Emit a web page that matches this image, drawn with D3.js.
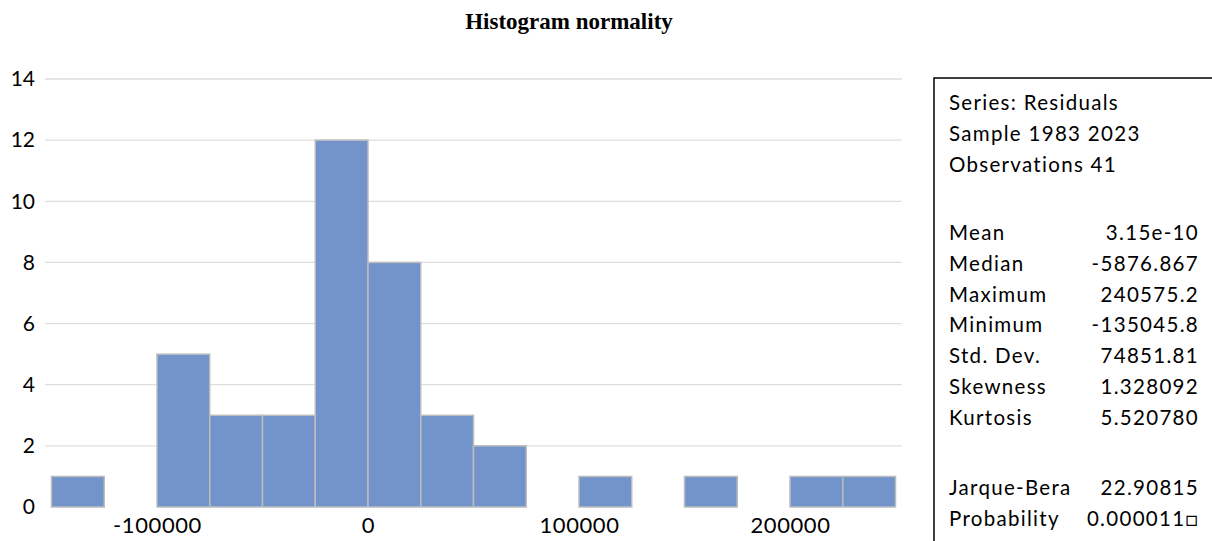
<!DOCTYPE html>
<html>
<head>
<meta charset="utf-8">
<script src="https://cdn.jsdelivr.net/npm/d3@7"></script>
<style>
  body { margin: 0; background: #fff; }
</style>
</head>
<body>
<svg id="chart" width="1212" height="541"></svg>
<script>
// histogram bins (lower edge) and counts
var binStarts = [-150000, -125000, -100000, -75000, -50000, -25000, 0, 25000, 50000, 75000, 100000, 125000, 150000, 175000, 200000, 225000];
var binWidth = 25000;
var counts = [1, 0, 5, 3, 3, 12, 8, 3, 2, 0, 1, 0, 1, 0, 1, 1];
var xTicks = [-100000, 0, 100000, 200000];
var yTicks = [0, 2, 4, 6, 8, 10, 12, 14];

// stats box
var headerLines = ["Series: Residuals", "Sample 1983 2023", "Observations 41"];
var statLabels = ["Mean", "Median", "Maximum", "Minimum", "Std. Dev.", "Skewness", "Kurtosis"];
var statValues = ["3.15e-10", "-5876.867", "240575.2", "-135045.8", "74851.81", "1.328092", "5.520780"];
var testLabels = ["Jarque-Bera", "Probability"];
var testValues = ["22.90815", "0.000011\u25A1"];

var svg = d3.select("#chart");
var font = "Lato, 'Open Sans', sans-serif";

svg.append("text")
  .attr("x", 569).attr("y", 29)
  .attr("text-anchor", "middle")
  .style("font-family", "'Liberation Serif', 'Times New Roman', serif")
  .style("font-weight", "bold")
  .style("font-size", "23px")
  .text("Histogram normality");

var x = d3.scaleLinear().domain([-150000, 250000]).range([51.5, 895.5]);
var y = d3.scaleLinear().domain([0, 14]).range([507, 79]);

// gridlines
svg.append("g").selectAll("line")
  .data(yTicks.filter(function (d) { return d > 0; }))
  .join("line")
  .attr("x1", 45).attr("x2", 902)
  .attr("y1", function (d) { return y(d); })
  .attr("y2", function (d) { return y(d); })
  .attr("stroke", "#dedede")
  .attr("stroke-width", 1.3);

// bars
var bins = binStarts.map(function (s, i) { return { x0: s, x1: s + binWidth, n: counts[i] }; });
svg.append("g").selectAll("rect")
  .data(bins.filter(function (b) { return b.n > 0; }))
  .join("rect")
  .attr("x", function (b) { return x(b.x0); })
  .attr("width", function (b) { return x(b.x1) - x(b.x0); })
  .attr("y", function (b) { return y(b.n); })
  .attr("height", function (b) { return y(0) - y(b.n); })
  .attr("fill", "#7294cb")
  .attr("stroke", "#bdbdbd")
  .attr("stroke-width", 1.5);

// y axis labels
var yAxis = svg.append("g")
  .attr("transform", "translate(35,0)")
  .call(d3.axisLeft(y).tickValues(yTicks).tickSize(0).tickPadding(0));
yAxis.select(".domain").remove();
yAxis.selectAll("text")
  .style("font-family", font)
  .style("font-size", "21px")
  .attr("fill", "#000");

// x axis labels (plain hyphen minus like the original)
var xAxis = svg.append("g")
  .attr("transform", "translate(0,517)")
  .call(d3.axisBottom(x).tickValues(xTicks).tickFormat(function (d) { return String(d); }).tickSize(0).tickPadding(0));
xAxis.select(".domain").remove();
xAxis.selectAll("text")
  .style("font-family", font)
  .style("font-size", "22px")
  .style("letter-spacing", "0.6px")
  .attr("fill", "#000");

// stats box
var bx = 934, by = 78;
svg.append("path")
  .attr("d", "M" + bx + ",541 V" + by + " H1212")
  .attr("fill", "none")
  .attr("stroke", "#000")
  .attr("stroke-width", 1.5);

var lineH = 30.8;
var tx = 949, vx = 1199;
var box = svg.append("g")
  .style("font-family", font)
  .style("font-size", "20.5px")
  .style("letter-spacing", "1.3px")
  .attr("fill", "#000");

box.selectAll("text.h")
  .data(headerLines)
  .join("text")
  .attr("class", "h")
  .attr("x", tx)
  .attr("y", function (d, i) { return 110 + i * lineH; })
  .text(function (d) { return d; });

function rows(labels, values, y0, cls) {
  box.selectAll("text." + cls + "l")
    .data(labels)
    .join("text")
    .attr("class", cls + "l")
    .attr("x", tx)
    .attr("y", function (d, i) { return y0 + i * lineH; })
    .text(function (d) { return d; });
  box.selectAll("text." + cls + "v")
    .data(values)
    .join("text")
    .attr("class", cls + "v")
    .attr("x", vx)
    .attr("text-anchor", "end")
    .attr("y", function (d, i) { return y0 + i * lineH; })
    .text(function (d) { return d; });
}
rows(statLabels, statValues, 240, "s");
rows(testLabels, testValues, 495, "t");
</script>
</body>
</html>
